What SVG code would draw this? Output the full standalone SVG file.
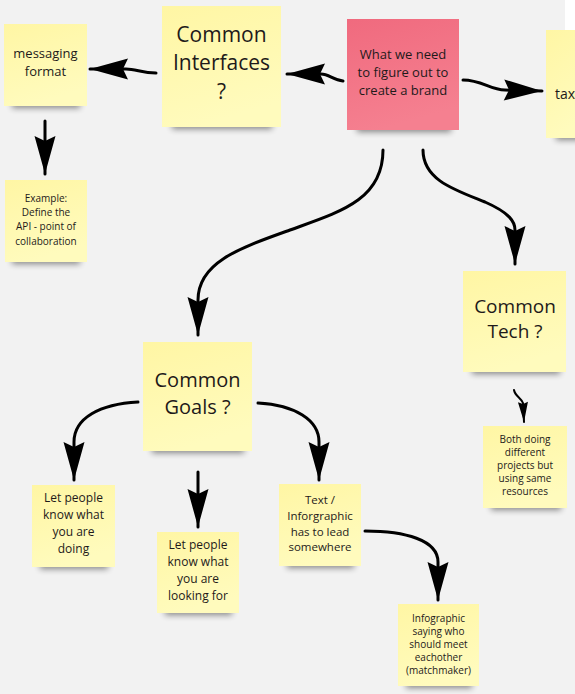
<svg xmlns="http://www.w3.org/2000/svg" xmlns:xlink="http://www.w3.org/1999/xlink" width="575" height="694" viewBox="0 0 575 694">
<defs>
<linearGradient id="gy" x1="0" y1="0" x2="0.3" y2="1">
<stop offset="0" stop-color="#fff6a4"/>
<stop offset="1" stop-color="#fffbbd"/>
</linearGradient>
<linearGradient id="gp" x1="0" y1="0" x2="0.3" y2="1">
<stop offset="0" stop-color="#f06a7e"/>
<stop offset="1" stop-color="#f58090"/>
</linearGradient>
<filter id="blur" x="-20%" y="-100%" width="140%" height="300%">
<feGaussianBlur stdDeviation="3"/>
</filter>
<marker id="big" markerUnits="userSpaceOnUse" markerWidth="42" markerHeight="26" viewBox="-40 -12 42 24" refX="0" refY="0" orient="auto">
<path d="M0,0 L-38,-10.5 L-33,0 L-38,10.5 Z" fill="#000"/>
</marker>
<marker id="small" markerUnits="userSpaceOnUse" markerWidth="24" markerHeight="14" viewBox="-22 -7 24 14" refX="0" refY="0" orient="auto">
<path d="M0,0 L-20,-5 L-18,0 L-20,5 Z" fill="#000"/>
</marker>
</defs>
<style>
.note{fill:url(#gy);}
.pink{fill:url(#gp);}
.sh{fill:#000;opacity:0.45;filter:url(#blur);}
text{font-family:"Open Sans","Noto Sans","Liberation Sans",sans-serif;fill:#1e1a1a;text-anchor:middle;}
.t10{font-size:10px;}
.t11{font-size:11.5px;}
.t12{font-size:12px;}
.t13{font-size:13px;}
.t14{font-size:14px;}
.t19{font-size:19px;}
.t20{font-size:20px;}
.t21{font-size:21px;}
.c{fill:none;stroke:#000;stroke-width:3;stroke-linecap:round;}
.cs{fill:none;stroke:#000;stroke-width:2;stroke-linecap:round;}
</style>
<rect width="575" height="694" fill="#f2f2f2"/>
<rect x="565" y="-6" width="16" height="51" rx="4" fill="#ffffff"/>

<g id="messaging">
<rect class="sh" x="12" y="100" width="68" height="8"/>
<rect class="note" x="4" y="24" width="83" height="82"/>
<text class="t13" x="45.5" y="58">messaging</text>
<text class="t13" x="45.5" y="76">format</text>
</g>

<g id="example">
<rect class="sh" x="12" y="256" width="68" height="8"/>
<rect class="note" x="5" y="180" width="82" height="82"/>
<text class="t10" x="46" y="201.5">Example:</text>
<text class="t10" x="46" y="215.5">Define the</text>
<text class="t10" x="46" y="229.5">API - point of</text>
<text class="t10" x="46" y="244.5">collaboration</text>
</g>

<g id="interfaces">
<rect class="sh" x="172" y="120" width="100" height="9"/>
<rect class="note" x="162" y="6" width="119" height="121"/>
<text class="t21" x="221.5" y="42">Common</text>
<text class="t21" x="221.5" y="70">Interfaces</text>
<text class="t21" x="221.5" y="99">?</text>
</g>

<g id="brand">
<rect class="sh" x="357" y="123" width="94" height="9"/>
<rect class="pink" x="347" y="19" width="112" height="111"/>
<text class="t13" x="403" y="58.5">What we need</text>
<text class="t13" x="403" y="76.5">to figure out to</text>
<text class="t13" x="403" y="94.5">create a brand</text>
</g>

<g id="tax">
<rect class="sh" x="556" y="131" width="30" height="9"/>
<rect class="note" x="546" y="30" width="40" height="108"/>
<text class="t14" x="555" y="99" style="text-anchor:start">tax</text>
</g>

<g id="tech">
<rect class="sh" x="472" y="365" width="88" height="9"/>
<rect class="note" x="463" y="271" width="103" height="101"/>
<text class="t19" x="515" y="312.5">Common</text>
<text class="t19" x="515" y="337.5">Tech ?</text>
</g>

<g id="both">
<rect class="sh" x="491" y="502" width="70" height="8"/>
<rect class="note" x="483" y="426" width="84" height="82"/>
<text class="t10" x="525" y="442.5">Both doing</text>
<text class="t10" x="525" y="455.5">different</text>
<text class="t10" x="525" y="468.5">projects but</text>
<text class="t10" x="525" y="481.5">using same</text>
<text class="t10" x="525" y="494.5">resources</text>
</g>

<g id="goals">
<rect class="sh" x="152" y="444" width="92" height="9"/>
<rect class="note" x="143" y="342" width="109" height="109"/>
<text class="t20" x="197.5" y="387">Common</text>
<text class="t20" x="197.5" y="414">Goals ?</text>
</g>

<g id="doing">
<rect class="sh" x="40" y="561" width="68" height="8"/>
<rect class="note" x="32" y="485" width="83" height="82"/>
<text class="t12" x="73.5" y="502">Let people</text>
<text class="t12" x="73.5" y="519">know what</text>
<text class="t12" x="73.5" y="536">you are</text>
<text class="t12" x="73.5" y="553">doing</text>
</g>

<g id="looking">
<rect class="sh" x="165" y="607" width="67" height="8"/>
<rect class="note" x="157" y="532" width="82" height="81"/>
<text class="t12" x="198" y="549">Let people</text>
<text class="t12" x="198" y="566">know what</text>
<text class="t12" x="198" y="583">you are</text>
<text class="t12" x="198" y="600">looking for</text>
</g>

<g id="textinfo">
<rect class="sh" x="287" y="560" width="67" height="8"/>
<rect class="note" x="279" y="484" width="82" height="82"/>
<text class="t11" x="320" y="504">Text /</text>
<text class="t11" x="320" y="520">Inforgraphic</text>
<text class="t11" x="320" y="535.5">has to lead</text>
<text class="t11" x="320" y="551">somewhere</text>
</g>

<g id="infographic">
<rect class="sh" x="406" y="680" width="66" height="8"/>
<rect class="note" x="398" y="604" width="81" height="82"/>
<text class="t10" x="438.5" y="621.5">Infographic</text>
<text class="t10" x="438.5" y="634.5">saying who</text>
<text class="t10" x="438.5" y="647.5">should meet</text>
<text class="t10" x="438.5" y="660.5">eachother</text>
<text class="t10" x="438.5" y="673.5">(matchmaker)</text>
</g>

<g id="connectors">
<path class="c" marker-end="url(#big)" d="M156,73 C142,73 136,69 126,69 L90,69"/>
<path class="c" marker-end="url(#big)" d="M45,121 L45,174"/>
<path class="c" marker-end="url(#big)" d="M343,81 C333,80 329,74 321,74 L287,74"/>
<path class="c" marker-end="url(#big)" d="M463,80 C482,80 490,90 505,90 L542,91"/>
<path class="c" marker-end="url(#big)" d="M383,150 C383,200 340,212 290,230 C240,248 198,262 198,300 L198,335"/>
<path class="c" marker-end="url(#big)" d="M423,150 C423,180 455,190 485,202 C510,213 515,222 515,230 L515,264"/>
<path class="cs" marker-end="url(#small)" d="M514,390 C515,396 521,398 523,403 L524,422"/>
<path class="c" marker-end="url(#big)" d="M138,402 C100,404 74,418 74,442 L74,480"/>
<path class="c" marker-end="url(#big)" d="M198,472 L198,527"/>
<path class="c" marker-end="url(#big)" d="M258,403 C295,405 319,420 319,442 L319,480"/>
<path class="c" marker-end="url(#big)" d="M365,531 C405,531 438,540 438,562 L438,600"/>
</g>
</svg>
